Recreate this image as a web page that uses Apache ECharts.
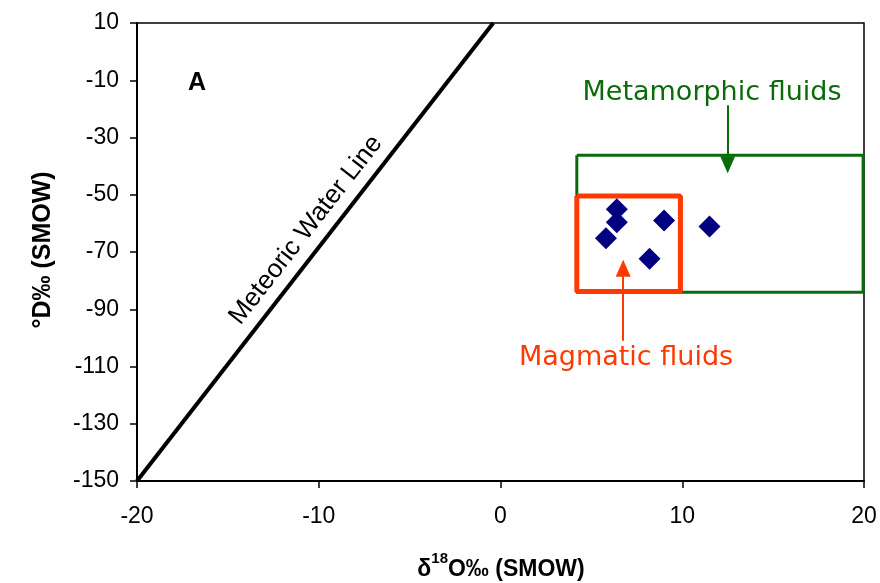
<!DOCTYPE html>
<html>
<head>
<meta charset="utf-8">
<script src="https://cdn.jsdelivr.net/npm/echarts@6/dist/echarts.min.js"></script>
<style>
  html, body { margin: 0; padding: 0; background: #fff; }
  #chart { width: 880px; height: 583px; }
</style>
</head>
<body>
<div id="chart"></div>
<script>
// Sample points: delta18O and deltaD (SMOW)
const d18O = [6.4, 6.4, 5.8, 9.0, 8.2, 11.5];
const dD = [-55.1, -59.6, -65.2, -59.0, -72.4, -61.1];

// Meteoric water line end points
const mwlX = [-20, -0.4];
const mwlY = [-150, 10];

// Boxes: [xMin, xMax, yMin, yMax]
const metamorphicBox = [4.2, 19.95, -84.1, -36.2];
const magmaticBox = [4.2, 9.9, -83.8, -50.4];

// Arrows: [x, yStart, yEnd]
const metamorphicArrow = [12.5, -18.7, -39.5];
const magmaticArrow = [6.75, -101, -75.7];

// Axis ranges
const xTicks = { min: -20, max: 20, step: 10 };
const yTicks = { min: -150, max: 10, step: 20 };

const GREEN = '#0b6b0b';
const RED = '#ff3a00';

function boxPath(b) {
  return [[b[0], b[3]], [b[1], b[3]], [b[1], b[2]], [b[0], b[2]], [b[0], b[3]]];
}

function arrowLine(a, color) {
  return {
    type: 'line',
    data: [],
    markLine: {
      silent: true,
      animation: false,
      symbol: ['none', 'triangle'],
      symbolSize: [15, 17],
      label: { show: false },
      lineStyle: { color: color, width: 2, type: 'solid' },
      data: [[{ coord: [a[0], a[1]] }, { coord: [a[0], a[2]] }]]
    }
  };
}

const option = {
  animation: false,
  grid: {
    left: 137, right: 16, top: 23, bottom: 102,
    show: true, borderColor: '#000', borderWidth: 1.5
  },
  xAxis: {
    type: 'value',
    min: xTicks.min, max: xTicks.max, interval: xTicks.step,
    axisLine: { show: true, onZero: false, lineStyle: { color: '#000', width: 2 } },
    axisTick: { show: true, length: 7, lineStyle: { color: '#000', width: 1.5 } },
    axisLabel: { color: '#000', fontSize: 23, fontFamily: 'Liberation Sans', margin: 24 },
    splitLine: { show: false }
  },
  yAxis: {
    type: 'value',
    min: yTicks.min, max: yTicks.max, interval: yTicks.step,
    axisLine: { show: true, onZero: false, lineStyle: { color: '#000', width: 2 } },
    axisTick: { show: true, length: 7, lineStyle: { color: '#000', width: 1.5 } },
    axisLabel: { color: '#000', fontSize: 23, fontFamily: 'Liberation Sans', margin: 18 },
    splitLine: { show: false }
  },
  series: [
    {
      type: 'line',
      data: mwlX.map((x, i) => [x, mwlY[i]]),
      symbol: 'none',
      lineStyle: { color: '#000', width: 4 },
      silent: true
    },
    {
      type: 'line',
      data: boxPath(metamorphicBox),
      symbol: 'none',
      lineStyle: { color: GREEN, width: 3 },
      silent: true
    },
    {
      type: 'line',
      data: boxPath(magmaticBox),
      symbol: 'none',
      lineStyle: { color: RED, width: 5 },
      silent: true
    },
    arrowLine(metamorphicArrow, GREEN),
    arrowLine(magmaticArrow, RED),
    {
      type: 'scatter',
      data: d18O.map((x, i) => [x, dD[i]]),
      symbol: 'diamond',
      symbolSize: 22,
      itemStyle: { color: '#000080', opacity: 1 },
      z: 10
    }
  ],
  graphic: [
    {
      type: 'text', x: 197, y: 83,
      style: { text: 'A', font: 'bold 25px "Liberation Sans"', fill: '#000', align: 'center', verticalAlign: 'middle' }
    },
    {
      type: 'text', x: 306, y: 230, rotation: 52 * Math.PI / 180,
      style: { text: 'Meteoric Water Line', font: '26px "Liberation Sans"', fill: '#000', align: 'center', verticalAlign: 'middle' }
    },
    {
      type: 'text', x: 712, y: 93,
      style: { text: 'Metamorphic fluids', font: '27px "DejaVu Sans"', fill: GREEN, align: 'center', verticalAlign: 'middle' }
    },
    {
      type: 'text', x: 626, y: 358,
      style: { text: 'Magmatic fluids', font: '27px "DejaVu Sans"', fill: RED, align: 'center', verticalAlign: 'middle' }
    },
    {
      type: 'text', x: 43, y: 250, rotation: Math.PI / 2,
      style: { text: '°D‰ (SMOW)', font: 'bold 25px "Liberation Sans"', fill: '#000', align: 'center', verticalAlign: 'middle' }
    },
    {
      type: 'text', x: 501, y: 566,
      style: {
        text: '{n|δ}{sup|18}{n|O‰ (SMOW)}',
        fill: '#000', align: 'center', verticalAlign: 'middle',
        rich: {
          n: { font: 'bold 23px "Liberation Sans"', fill: '#000', lineHeight: 30, verticalAlign: 'bottom' },
          sup: { font: 'bold 15px "Liberation Sans"', fill: '#000', lineHeight: 30, verticalAlign: 'top' }
        }
      }
    }
  ]
};

const chart = echarts.init(document.getElementById('chart'));
chart.setOption(option);
</script>
</body>
</html>
